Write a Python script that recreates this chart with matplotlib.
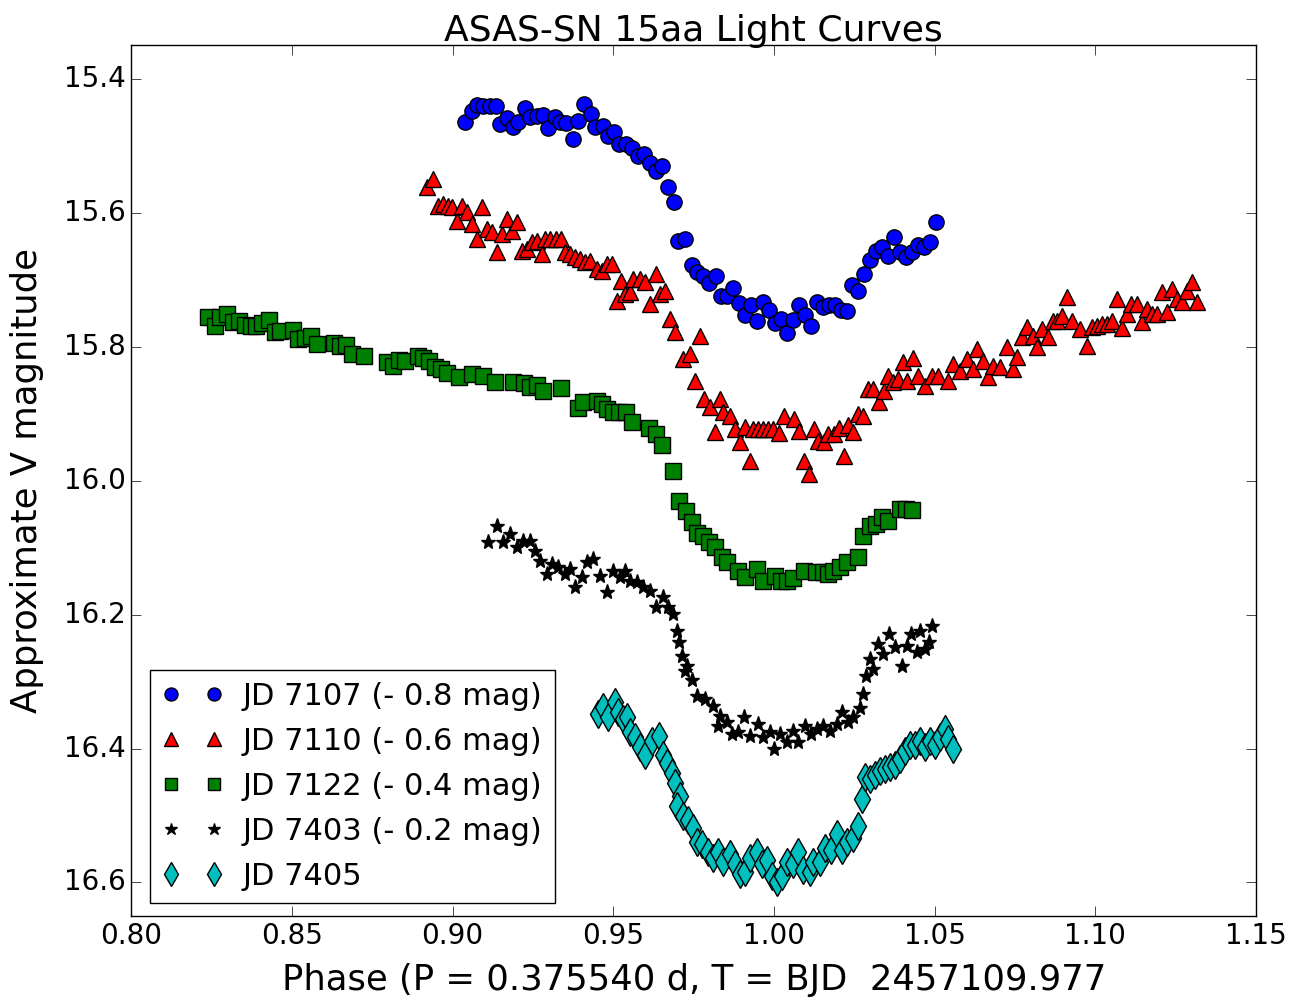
import matplotlib
matplotlib.use("Agg")
import matplotlib.pyplot as plt

plt.style.use('classic')

# JD 7107 (shifted -0.8 mag)
ph_7107 = [0.9039, 0.9061, 0.9076, 0.9095, 0.9117, 0.9136, 0.9148, 0.9170, 0.9188, 0.9204,
           0.9226, 0.9241, 0.9263, 0.9282, 0.9297, 0.9319, 0.9335, 0.9353, 0.9375, 0.9391,
           0.9409, 0.9431, 0.9444, 0.9468, 0.9484, 0.9503, 0.9518, 0.9540, 0.9559, 0.9577,
           0.9596, 0.9615, 0.9633, 0.9652, 0.9671, 0.9689, 0.9702, 0.9723, 0.9745, 0.9761,
           0.9779, 0.9798, 0.9820, 0.9835, 0.9854, 0.9873, 0.9892, 0.9910, 0.9929, 0.9948,
           0.9966, 0.9985, 1.0004, 1.0022, 1.0041, 1.0060, 1.0078, 1.0097, 1.0116, 1.0134,
           1.0153, 1.0171, 1.0190, 1.0209, 1.0227, 1.0243, 1.0262, 1.0280, 1.0299, 1.0318,
           1.0336, 1.0355, 1.0374, 1.0392, 1.0411, 1.0430, 1.0448, 1.0467, 1.0486, 1.0504]
mag_7107 = [15.464, 15.448, 15.439, 15.440, 15.440, 15.440, 15.467, 15.458, 15.472, 15.464,
            15.443, 15.457, 15.455, 15.454, 15.473, 15.457, 15.464, 15.466, 15.490, 15.463,
            15.437, 15.452, 15.472, 15.470, 15.485, 15.479, 15.497, 15.497, 15.503, 15.515,
            15.512, 15.526, 15.537, 15.531, 15.561, 15.584, 15.642, 15.639, 15.678, 15.688,
            15.694, 15.705, 15.694, 15.724, 15.724, 15.712, 15.735, 15.753, 15.738, 15.762,
            15.733, 15.745, 15.765, 15.759, 15.780, 15.760, 15.738, 15.753, 15.769, 15.733,
            15.741, 15.738, 15.738, 15.745, 15.747, 15.708, 15.717, 15.691, 15.670, 15.657,
            15.651, 15.664, 15.636, 15.659, 15.666, 15.659, 15.648, 15.651, 15.644, 15.614]

# JD 7110 (shifted -0.6 mag)
ph_7110 = [0.8921, 0.8940, 0.8955, 0.8971, 0.8986, 0.8999, 0.9014, 0.9030, 0.9045, 0.9061,
           0.9076, 0.9092, 0.9108, 0.9123, 0.9139, 0.9154, 0.9170, 0.9185, 0.9201, 0.9216,
           0.9232, 0.9248, 0.9263, 0.9279, 0.9288, 0.9304, 0.9322, 0.9338, 0.9350, 0.9366,
           0.9381, 0.9397, 0.9412, 0.9428, 0.9450, 0.9465, 0.9481, 0.9496, 0.9512, 0.9524,
           0.9537, 0.9552, 0.9562, 0.9583, 0.9599, 0.9615, 0.9633, 0.9646, 0.9661, 0.9677,
           0.9692, 0.9717, 0.9739, 0.9755, 0.9770, 0.9783, 0.9801, 0.9817, 0.9832, 0.9842,
           0.9863, 0.9879, 0.9895, 0.9910, 0.9926, 0.9935, 0.9951, 0.9966, 0.9982, 0.9997,
           1.0016, 1.0031, 1.0063, 1.0078, 1.0094, 1.0109, 1.0125, 1.0137, 1.0156, 1.0168,
           1.0187, 1.0203, 1.0218, 1.0231, 1.0246, 1.0262, 1.0277, 1.0293, 1.0308, 1.0327,
           1.0343, 1.0355, 1.0371, 1.0386, 1.0402, 1.0414, 1.0433, 1.0448, 1.0470, 1.0492,
           1.0511, 1.0542, 1.0557, 1.0579, 1.0601, 1.0619, 1.0632, 1.0651, 1.0666, 1.0682,
           1.0703, 1.0725, 1.0744, 1.0756, 1.0772, 1.0787, 1.0806, 1.0819, 1.0834, 1.0853,
           1.0868, 1.0881, 1.0896, 1.0912, 1.0927, 1.0952, 1.0974, 1.0990, 1.1005, 1.1021,
           1.1036, 1.1052, 1.1067, 1.1083, 1.1099, 1.1111, 1.1130, 1.1145, 1.1161, 1.1176,
           1.1192, 1.1207, 1.1223, 1.1239, 1.1254, 1.1270, 1.1285, 1.1301, 1.1316]
mag_7110 = [15.561, 15.549, 15.590, 15.587, 15.590, 15.591, 15.612, 15.590, 15.599, 15.617,
            15.639, 15.591, 15.624, 15.629, 15.659, 15.632, 15.609, 15.627, 15.614, 15.657,
            15.654, 15.644, 15.642, 15.662, 15.639, 15.639, 15.639, 15.639, 15.659, 15.662,
            15.666, 15.669, 15.673, 15.672, 15.684, 15.687, 15.676, 15.676, 15.732, 15.702,
            15.721, 15.718, 15.699, 15.699, 15.703, 15.736, 15.691, 15.721, 15.717, 15.759,
            15.778, 15.818, 15.811, 15.851, 15.784, 15.878, 15.890, 15.928, 15.878, 15.898,
            15.904, 15.923, 15.942, 15.920, 15.971, 15.923, 15.923, 15.923, 15.923, 15.923,
            15.929, 15.904, 15.908, 15.926, 15.971, 15.990, 15.923, 15.941, 15.942, 15.930,
            15.930, 15.922, 15.963, 15.917, 15.928, 15.901, 15.904, 15.863, 15.863, 15.883,
            15.866, 15.844, 15.853, 15.848, 15.823, 15.851, 15.817, 15.844, 15.859, 15.844,
            15.844, 15.851, 15.826, 15.836, 15.818, 15.833, 15.803, 15.821, 15.845, 15.829,
            15.830, 15.800, 15.833, 15.815, 15.786, 15.771, 15.784, 15.800, 15.774, 15.786,
            15.762, 15.762, 15.754, 15.726, 15.762, 15.774, 15.799, 15.771, 15.769, 15.766,
            15.766, 15.762, 15.729, 15.772, 15.751, 15.736, 15.736, 15.763, 15.744, 15.751,
            15.751, 15.718, 15.748, 15.714, 15.729, 15.733, 15.717, 15.703, 15.733]

# JD 7122 (shifted -0.4 mag)
ph_7122 = [0.8240, 0.8261, 0.8277, 0.8299, 0.8317, 0.8336, 0.8355, 0.8373, 0.8389, 0.8408,
           0.8429, 0.8448, 0.8464, 0.8504, 0.8520, 0.8541, 0.8560, 0.8579, 0.8632, 0.8650,
           0.8669, 0.8688, 0.8725, 0.8796, 0.8815, 0.8834, 0.8852, 0.8893, 0.8908, 0.8927,
           0.8946, 0.8964, 0.8983, 0.9020, 0.9061, 0.9095, 0.9132, 0.9188, 0.9223, 0.9241,
           0.9263, 0.9282, 0.9338, 0.9391, 0.9406, 0.9450, 0.9465, 0.9481, 0.9500, 0.9518,
           0.9540, 0.9559, 0.9611, 0.9633, 0.9652, 0.9686, 0.9705, 0.9727, 0.9745, 0.9761,
           0.9779, 0.9798, 0.9817, 0.9839, 0.9854, 0.9888, 0.9910, 0.9948, 0.9966, 1.0004,
           1.0022, 1.0041, 1.0060, 1.0094, 1.0131, 1.0153, 1.0168, 1.0184, 1.0206, 1.0227,
           1.0262, 1.0277, 1.0299, 1.0318, 1.0336, 1.0355, 1.0392, 1.0411, 1.0430]
mag_7122 = [15.756, 15.769, 15.756, 15.751, 15.763, 15.762, 15.768, 15.769, 15.769, 15.765,
            15.760, 15.778, 15.777, 15.775, 15.789, 15.787, 15.784, 15.796, 15.795, 15.799,
            15.797, 15.811, 15.814, 15.823, 15.829, 15.820, 15.821, 15.814, 15.817, 15.821,
            15.830, 15.833, 15.839, 15.845, 15.841, 15.844, 15.853, 15.853, 15.854, 15.860,
            15.857, 15.866, 15.862, 15.892, 15.883, 15.881, 15.886, 15.893, 15.898, 15.898,
            15.898, 15.913, 15.922, 15.930, 15.947, 15.986, 16.031, 16.046, 16.062, 16.078,
            16.083, 16.092, 16.099, 16.114, 16.122, 16.135, 16.144, 16.132, 16.150, 16.143,
            16.150, 16.150, 16.146, 16.135, 16.137, 16.137, 16.140, 16.135, 16.129, 16.122,
            16.114, 16.083, 16.068, 16.065, 16.055, 16.061, 16.043, 16.043, 16.044]

# JD 7403 (shifted -0.2 mag)
ph_7403 = [0.9111, 0.9139, 0.9157, 0.9179, 0.9201, 0.9220, 0.9241, 0.9257, 0.9272, 0.9294,
           0.9310, 0.9328, 0.9350, 0.9366, 0.9381, 0.9403, 0.9419, 0.9437, 0.9459, 0.9481,
           0.9500, 0.9521, 0.9537, 0.9552, 0.9574, 0.9593, 0.9615, 0.9633, 0.9655, 0.9671,
           0.9686, 0.9699, 0.9705, 0.9714, 0.9730, 0.9723, 0.9745, 0.9761, 0.9786, 0.9811,
           0.9832, 0.9826, 0.9854, 0.9870, 0.9888, 0.9907, 0.9926, 0.9951, 0.9966, 0.9988,
           1.0000, 1.0019, 1.0041, 1.0060, 1.0075, 1.0097, 1.0116, 1.0134, 1.0153, 1.0175,
           1.0196, 1.0212, 1.0231, 1.0246, 1.0268, 1.0277, 1.0287, 1.0299, 1.0308, 1.0324,
           1.0339, 1.0358, 1.0377, 1.0399, 1.0414, 1.0427, 1.0445, 1.0455, 1.0470, 1.0483,
           1.0492]
mag_7403 = [16.092, 16.068, 16.092, 16.080, 16.099, 16.090, 16.090, 16.105, 16.120, 16.140,
            16.125, 16.129, 16.140, 16.132, 16.159, 16.144, 16.122, 16.117, 16.143, 16.167,
            16.135, 16.144, 16.135, 16.150, 16.152, 16.159, 16.165, 16.189, 16.174, 16.188,
            16.199, 16.225, 16.241, 16.262, 16.277, 16.285, 16.297, 16.322, 16.326, 16.337,
            16.352, 16.367, 16.361, 16.379, 16.376, 16.353, 16.382, 16.364, 16.383, 16.376,
            16.401, 16.379, 16.391, 16.374, 16.391, 16.367, 16.379, 16.371, 16.367, 16.374,
            16.364, 16.346, 16.361, 16.353, 16.339, 16.319, 16.292, 16.267, 16.282, 16.244,
            16.259, 16.229, 16.249, 16.277, 16.247, 16.229, 16.256, 16.225, 16.252, 16.241,
            16.217]

# JD 7405
ph_7405 = [0.9453, 0.9468, 0.9484, 0.9506, 0.9515, 0.9531, 0.9543, 0.9552, 0.9568, 0.9583,
           0.9599, 0.9621, 0.9643, 0.9655, 0.9667, 0.9683, 0.9692, 0.9708, 0.9699, 0.9717,
           0.9733, 0.9748, 0.9761, 0.9776, 0.9795, 0.9811, 0.9826, 0.9842, 0.9863, 0.9879,
           0.9895, 0.9910, 0.9926, 0.9948, 0.9963, 0.9979, 0.9994, 1.0010, 1.0025, 1.0041,
           1.0060, 1.0075, 1.0091, 1.0112, 1.0122, 1.0143, 1.0159, 1.0178, 1.0196, 1.0212,
           1.0227, 1.0246, 1.0262, 1.0274, 1.0283, 1.0299, 1.0315, 1.0330, 1.0346, 1.0361,
           1.0377, 1.0392, 1.0408, 1.0424, 1.0439, 1.0455, 1.0470, 1.0486, 1.0501, 1.0517,
           1.0532, 1.0542, 1.0557]
mag_7405 = [16.349, 16.338, 16.353, 16.331, 16.346, 16.356, 16.353, 16.376, 16.383, 16.397,
            16.409, 16.389, 16.382, 16.409, 16.421, 16.436, 16.451, 16.471, 16.486, 16.501,
            16.506, 16.518, 16.539, 16.543, 16.554, 16.563, 16.555, 16.569, 16.558, 16.573,
            16.588, 16.584, 16.563, 16.554, 16.573, 16.566, 16.591, 16.600, 16.591, 16.569,
            16.573, 16.555, 16.581, 16.585, 16.569, 16.569, 16.548, 16.551, 16.528, 16.551,
            16.540, 16.533, 16.516, 16.476, 16.443, 16.446, 16.439, 16.434, 16.431, 16.428,
            16.424, 16.416, 16.404, 16.394, 16.394, 16.389, 16.398, 16.389, 16.394, 16.383,
            16.371, 16.386, 16.401]

fig = plt.figure(figsize=(12.99, 10.06), dpi=100, facecolor='white')
ax = fig.add_axes([0.101, 0.0895, 0.866, 0.8655])

ax.plot(ph_7107, mag_7107, 'o', color='b', ms=11, mec='k', mew=1, label='JD 7107 (- 0.8 mag)')
ax.plot(ph_7110, mag_7110, '^', color='r', ms=12, mec='k', mew=1, label='JD 7110 (- 0.6 mag)')
ax.plot(ph_7122, mag_7122, 's', color='g', ms=11, mec='k', mew=1, label='JD 7122 (- 0.4 mag)')
ax.plot(ph_7403, mag_7403, '*', color='k', ms=11, mec='k', mew=1, label='JD 7403 (- 0.2 mag)')
ax.plot(ph_7405, mag_7405, 'd', color='c', ms=14, mec='k', mew=1, label='JD 7405')

ax.set_xlim(0.80, 1.15)
ax.set_ylim(16.65, 15.35)
ax.set_xticks([0.80, 0.85, 0.90, 0.95, 1.00, 1.05, 1.10, 1.15])
ax.set_yticks([15.4, 15.6, 15.8, 16.0, 16.2, 16.4, 16.6])
ax.tick_params(labelsize=20, length=7)

ax.set_title('ASAS-SN 15aa Light Curves', fontsize=26, pad=3)
ax.set_xlabel('Phase (P = 0.375540 d, T = BJD  2457109.977', fontsize=25.5, labelpad=10)
ax.set_ylabel('Approximate V magnitude', fontsize=25.5, labelpad=14)

ax.legend(loc='lower left', bbox_to_anchor=(0.0, -0.006), numpoints=2, fontsize=22,
          markerscale=0.85, borderaxespad=0.6, handletextpad=0.65, labelspacing=0.52)

fig.savefig('out.png', dpi=100, facecolor='white')
